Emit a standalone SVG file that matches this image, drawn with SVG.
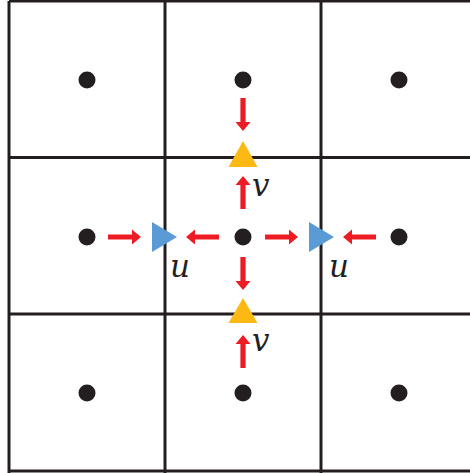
<svg xmlns="http://www.w3.org/2000/svg" width="470" height="473" viewBox="0 0 470 473">
<style>
.grid{stroke:#231f20;stroke-width:3;fill:none}
.dot{fill:#231f20}
.arr{fill:#ed1c24}
.yel{fill:#fdb913}
.blu{fill:#5b9bd5}
.lbl{font-family:"DejaVu Serif",serif;font-style:italic;font-size:31px;fill:#231f20}
</style>
<defs>
<path id="arrow" d="M-33,-2.6 H-9 V-7.5 L0,0 L-9,7.5 V2.6 H-33 Z"/>
</defs>
<rect width="470" height="473" fill="#fff"/>
<g id="grid" class="grid">
<line x1="9" y1="1" x2="9" y2="473"/>
<line x1="165" y1="1" x2="165" y2="473"/>
<line x1="321" y1="1" x2="321" y2="473"/>
<line x1="9" y1="1" x2="470" y2="1"/>
<line x1="9" y1="157.5" x2="470" y2="157.5"/>
<line x1="9" y1="314" x2="470" y2="314"/>
<line x1="9" y1="471" x2="470" y2="471"/>
</g>
<g id="nodes" class="dot">
<circle id="n11" cx="87" cy="80" r="8.5"/>
<circle id="n12" cx="243" cy="80" r="8.5"/>
<circle id="n13" cx="399" cy="80" r="8.5"/>
<circle id="n21" cx="87" cy="237" r="8.5"/>
<circle id="n22" cx="243" cy="237" r="8.5"/>
<circle id="n23" cx="399" cy="237" r="8.5"/>
<circle id="n31" cx="87" cy="393" r="8.5"/>
<circle id="n32" cx="243" cy="393" r="8.5"/>
<circle id="n33" cx="399" cy="393" r="8.5"/>
</g>
<g id="connectors" class="arr">
<use href="#arrow" transform="translate(243,131) rotate(90)"/>
<use href="#arrow" transform="translate(243,176) rotate(-90)"/>
<use href="#arrow" transform="translate(243,290) rotate(90)"/>
<use href="#arrow" transform="translate(243,335) rotate(-90)"/>
<use href="#arrow" transform="translate(141,237)"/>
<use href="#arrow" transform="translate(186,237) rotate(180)"/>
<use href="#arrow" transform="translate(298,237)"/>
<use href="#arrow" transform="translate(343,237) rotate(180)"/>
</g>
<g id="vtop"><polygon class="yel" points="243,141 228.5,167 257.5,167"/></g>
<g id="vbot"><polygon class="yel" points="243,298 228.5,323 257.5,323"/></g>
<g id="uleft"><polygon class="blu" points="177,237 152,222 152,252"/></g>
<g id="uright"><polygon class="blu" points="334,237 309,222 309,252"/></g>
<g id="labels" class="lbl">
<text x="252" y="196">v</text>
<text x="252" y="351">v</text>
<text x="170" y="277">u</text>
<text x="329" y="277">u</text>
</g>
</svg>
